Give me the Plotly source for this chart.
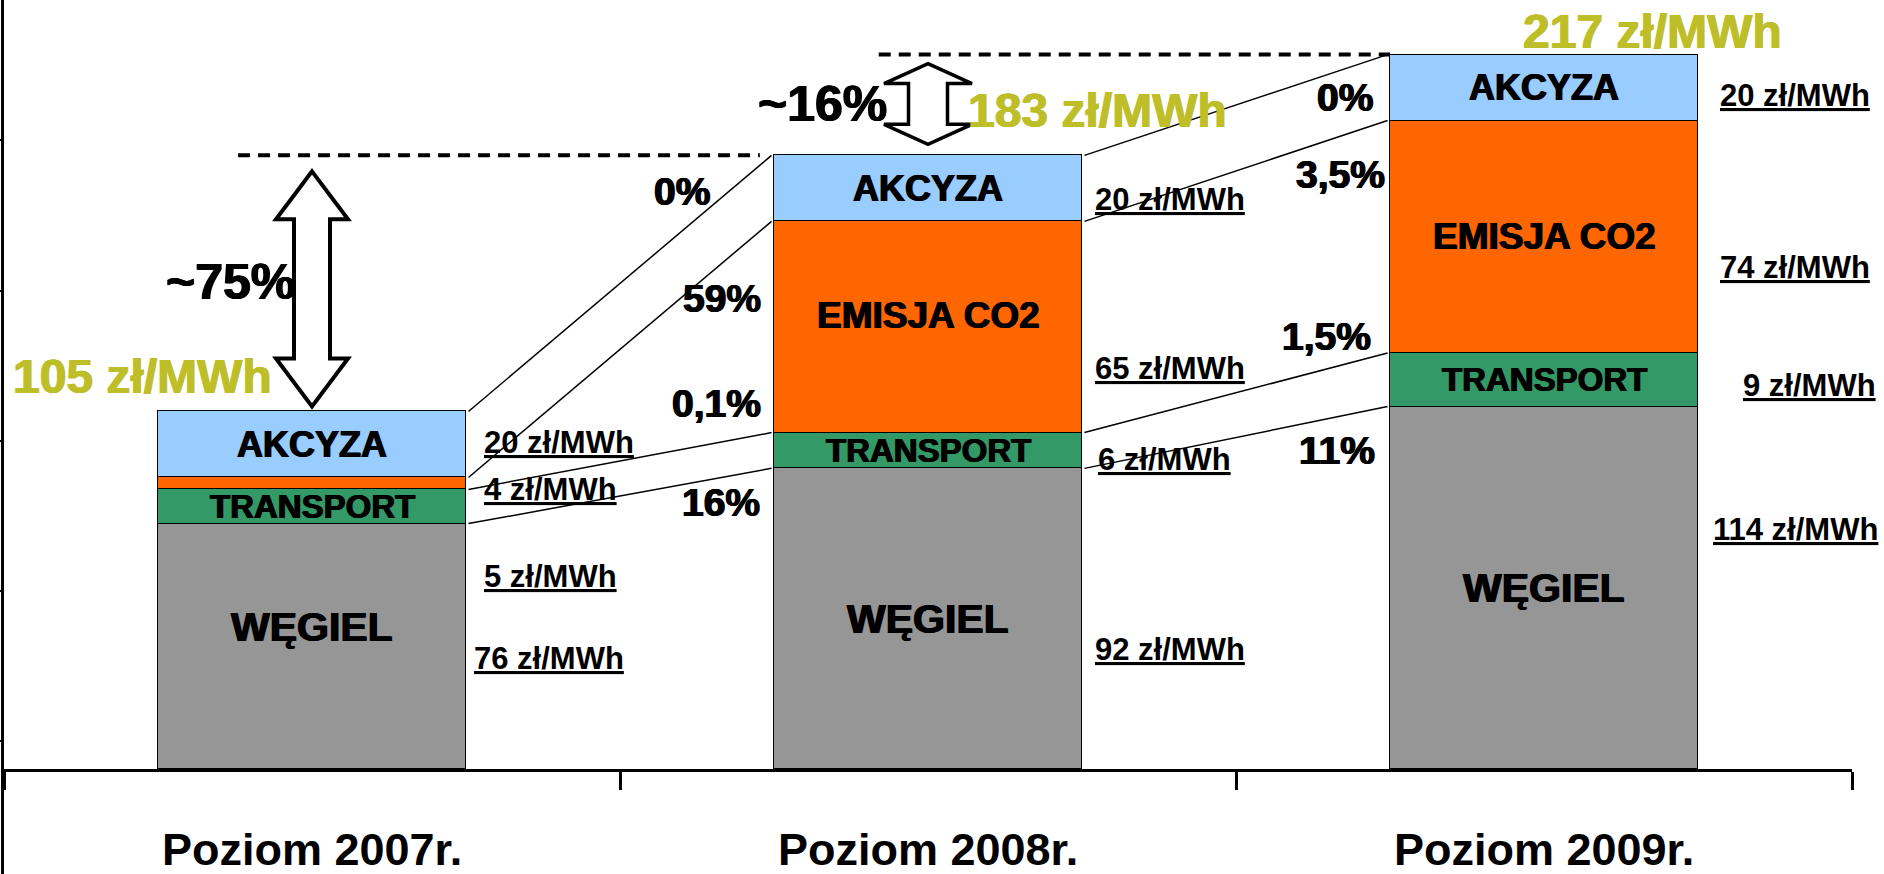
import plotly.graph_objects as go

# ---------------- DATA ----------------
categories = ["Poziom 2007r.", "Poziom 2008r.", "Poziom 2009r."]
series_names = ["WĘGIEL", "TRANSPORT", "EMISJA CO2", "AKCYZA"]
wegiel = [75.5, 92.5, 111.5]
transport = [10.5, 11.0, 16.5]
emisja = [3.7, 65.0, 71.5]
akcyza = [20.3, 20.3, 20.3]
series_values = [wegiel, transport, emisja, akcyza]
series_colors = ["#969696", "#339966", "#FF6600", "#99CCFF"]

value_labels = [
    ["76 zł/MWh", "5 zł/MWh", "4 zł/MWh", "20 zł/MWh"],
    ["92 zł/MWh", "6 zł/MWh", "65 zł/MWh", "20 zł/MWh"],
    ["114 zł/MWh", "9 zł/MWh", "74 zł/MWh", "20 zł/MWh"],
]
total_labels = ["105 zł/MWh", "183 zł/MWh", "217 zł/MWh"]
change_labels = ["~75%", "~16%"]
share_labels = [
    ["16%", "0,1%", "59%", "0%"],
    ["11%", "1,5%", "3,5%", "0%"],
]

# ---------------- LAYOUT CONSTANTS ----------------
W, H = 1884, 874
ML, MT, MB = 4, 0, 105
PW = 1848
MR = W - ML - PW
PH = H - MT - MB
YMAX = 236.6
PXU = PH / YMAX              # pixels per value unit
BAR_W = 0.5
FONT = "Liberation Sans, Arial, sans-serif"
OLIVE = "#BEBE28"


def paper(xpx, ypx):
    return (xpx - ML) / PW, (MT + PH - ypx) / PH


# cumulative tops
cum = []
for i in range(len(categories)):
    acc, tops = 0, []
    for s in series_values:
        acc += s[i]
        tops.append(acc)
    cum.append(tops)
totals = [c[-1] for c in cum]

fig = go.Figure()

# stacked bars
for name, vals, col in zip(series_names, series_values, series_colors):
    fig.add_trace(go.Bar(
        x=list(range(len(categories))), y=vals, name=name, width=BAR_W,
        marker=dict(color=col, line=dict(color="black", width=1.5)),
        hoverinfo="skip", showlegend=False,
    ))

# connecting lines between bars at segment boundaries
lx, ly = [], []
for i in range(len(categories) - 1):
    for k in range(len(series_names)):
        lx += [i + BAR_W / 2 + 0.004, i + 1 - BAR_W / 2 - 0.004, None]
        ly += [cum[i][k], cum[i + 1][k], None]
fig.add_trace(go.Scatter(x=lx, y=ly, mode="lines",
                         line=dict(color="black", width=1.5),
                         hoverinfo="skip", showlegend=False))

# dashed reference lines at next total
dash_start = [-0.12, -0.08]
dash_end_gap = [0.023, 0.0]
dx, dy = [], []
for i in range(len(categories) - 1):
    dx += [i + dash_start[i], i + 1 - BAR_W / 2 - dash_end_gap[i], None]
    dy += [totals[i + 1], totals[i + 1], None]
fig.add_trace(go.Scatter(x=dx, y=dy, mode="lines",
                         line=dict(color="black", width=4, dash="12px,8px"),
                         hoverinfo="skip", showlegend=False))

shapes = []
# double arrows (pixel widths, value-based heights)
arrow_style = [
    dict(top_gap=16, bot_gap=5, head=48, hw=36, sw=18, lw=4),
    dict(top_gap=9, bot_gap=11, head=20, hw=44, sw=19.5, lw=3.5),
]
for i, st in enumerate(arrow_style):
    yt = totals[i + 1] - st["top_gap"] / PXU
    yb = totals[i] + st["bot_gap"] / PXU
    hl = st["head"] / PXU
    hw, sw = st["hw"], st["sw"]
    pts = [(0, yt), (hw, yt - hl), (sw, yt - hl), (sw, yb + hl), (hw, yb + hl),
           (0, yb), (-hw, yb + hl), (-sw, yb + hl), (-sw, yt - hl), (-hw, yt - hl)]
    path = "M " + " L ".join(f"{px},{py:.3f}" for px, py in pts) + " Z"
    shapes.append(dict(type="path", xref="x", yref="y", xsizemode="pixel",
                       xanchor=i, path=path, fillcolor="white",
                       line=dict(color="black", width=st["lw"]), layer="above"))

# y-axis line extended below x axis
shapes.append(dict(type="line", xref="paper", yref="paper", xsizemode="pixel",
                   xanchor=0, x0=-1.5, x1=-1.5, y0=-0.2, y1=0,
                   line=dict(color="black", width=3)))

annotations = []


def ann(text, x, y, size, xanchor="center", color="black", xref="paper",
        yref="paper", yshift=0, heavy=True):
    font = dict(family=FONT, size=size, color=color)
    if heavy:
        font["shadow"] = f"0.7px 0 0 {color}, -0.7px 0 0 {color}"
    annotations.append(dict(text=f"<b>{text}</b>", x=x, y=y, xref=xref,
                            yref=yref, xanchor=xanchor, yanchor="middle",
                            showarrow=False, yshift=yshift, font=font))


# in-bar labels
bar_label_size = [41, 33, 37, 36]
bar_label_shift = [[19, 0, 0, 0], [0, 0, 11, 0], [0, 0, 0, 0]]
for i in range(len(categories)):
    base = 0
    for k, name in enumerate(series_names):
        h = series_values[k][i]
        if h > 8:
            ann(name, i, base + h / 2, bar_label_size[k], xref="x", yref="y",
                yshift=bar_label_shift[i][k])
        base += h

# category labels
for i, c in enumerate(categories):
    ann(c, i, paper(0, 849)[1], 45, xref="x", heavy=False)

# value labels (text positions in pixels)
value_pos = [
    [(472, 658, "left"), (482, 576, "left"), (482, 489, "left"), (482, 442, "left")],
    [(1093, 649, "left"), (1096, 459, "left"), (1093, 369, "left"), (1093, 199, "left")],
    [(1880, 529, "right"), (1878, 385, "right"), (1872, 267, "right"), (1872, 95, "right")],
]
for i in range(len(categories)):
    for k in range(len(series_names)):
        xp, yp, anc = value_pos[i][k]
        px_, py_ = paper(xp, yp)
        ann(f"<u>{value_labels[i][k]}</u>", px_, py_, 31, xanchor=anc,
            heavy=False)

# share-of-change labels (right aligned)
share_pos = [
    [(762, 502), (763, 403), (763, 298), (712, 192)],
    [(1377, 450), (1373, 336), (1387, 174), (1375, 98)],
]
for g in range(2):
    for k in range(4):
        xp, yp = share_pos[g][k]
        px_, py_ = paper(xp, yp)
        ann(share_labels[g][k], px_, py_, 39, xanchor="right")

# totals
total_pos = [(142, 376), (1097, 111), (1652, 32)]
for t, (xp, yp) in zip(total_labels, total_pos):
    px_, py_ = paper(xp, yp)
    ann(t, px_, py_, 48, color=OLIVE)

# change labels
change_pos = [(230, 282), (822, 104)]
for t, (xp, yp) in zip(change_labels, change_pos):
    px_, py_ = paper(xp, yp)
    ann(t, px_, py_, 50)

fig.update_layout(
    width=W, height=H,
    margin=dict(l=ML, r=MR, t=MT, b=MB, pad=0, autoexpand=False),
    barmode="stack", bargap=0,
    plot_bgcolor="white", paper_bgcolor="white",
    showlegend=False,
    shapes=shapes, annotations=annotations,
    xaxis=dict(range=[-0.5, len(categories) - 0.5], tickmode="array",
               tickvals=[i - 0.5 for i in range(len(categories) + 1)],
               showticklabels=False, ticks="outside", ticklen=18, tickwidth=3,
               tickcolor="black", showline=True, linecolor="black",
               linewidth=3, showgrid=False, zeroline=False, fixedrange=True,
               automargin=False),
    yaxis=dict(range=[0, YMAX], tickmode="linear", tick0=8.6, dtick=46.2,
               showticklabels=False, ticks="outside", ticklen=4, tickwidth=2,
               tickcolor="black", showline=True, linecolor="black",
               linewidth=3, showgrid=False, zeroline=False, fixedrange=True,
               automargin=False),
)

fig.write_html(
    "out.html",
    config={"displayModeBar": False},
    post_script="document.body.style.margin='0';document.body.style.overflow='hidden';",
)
